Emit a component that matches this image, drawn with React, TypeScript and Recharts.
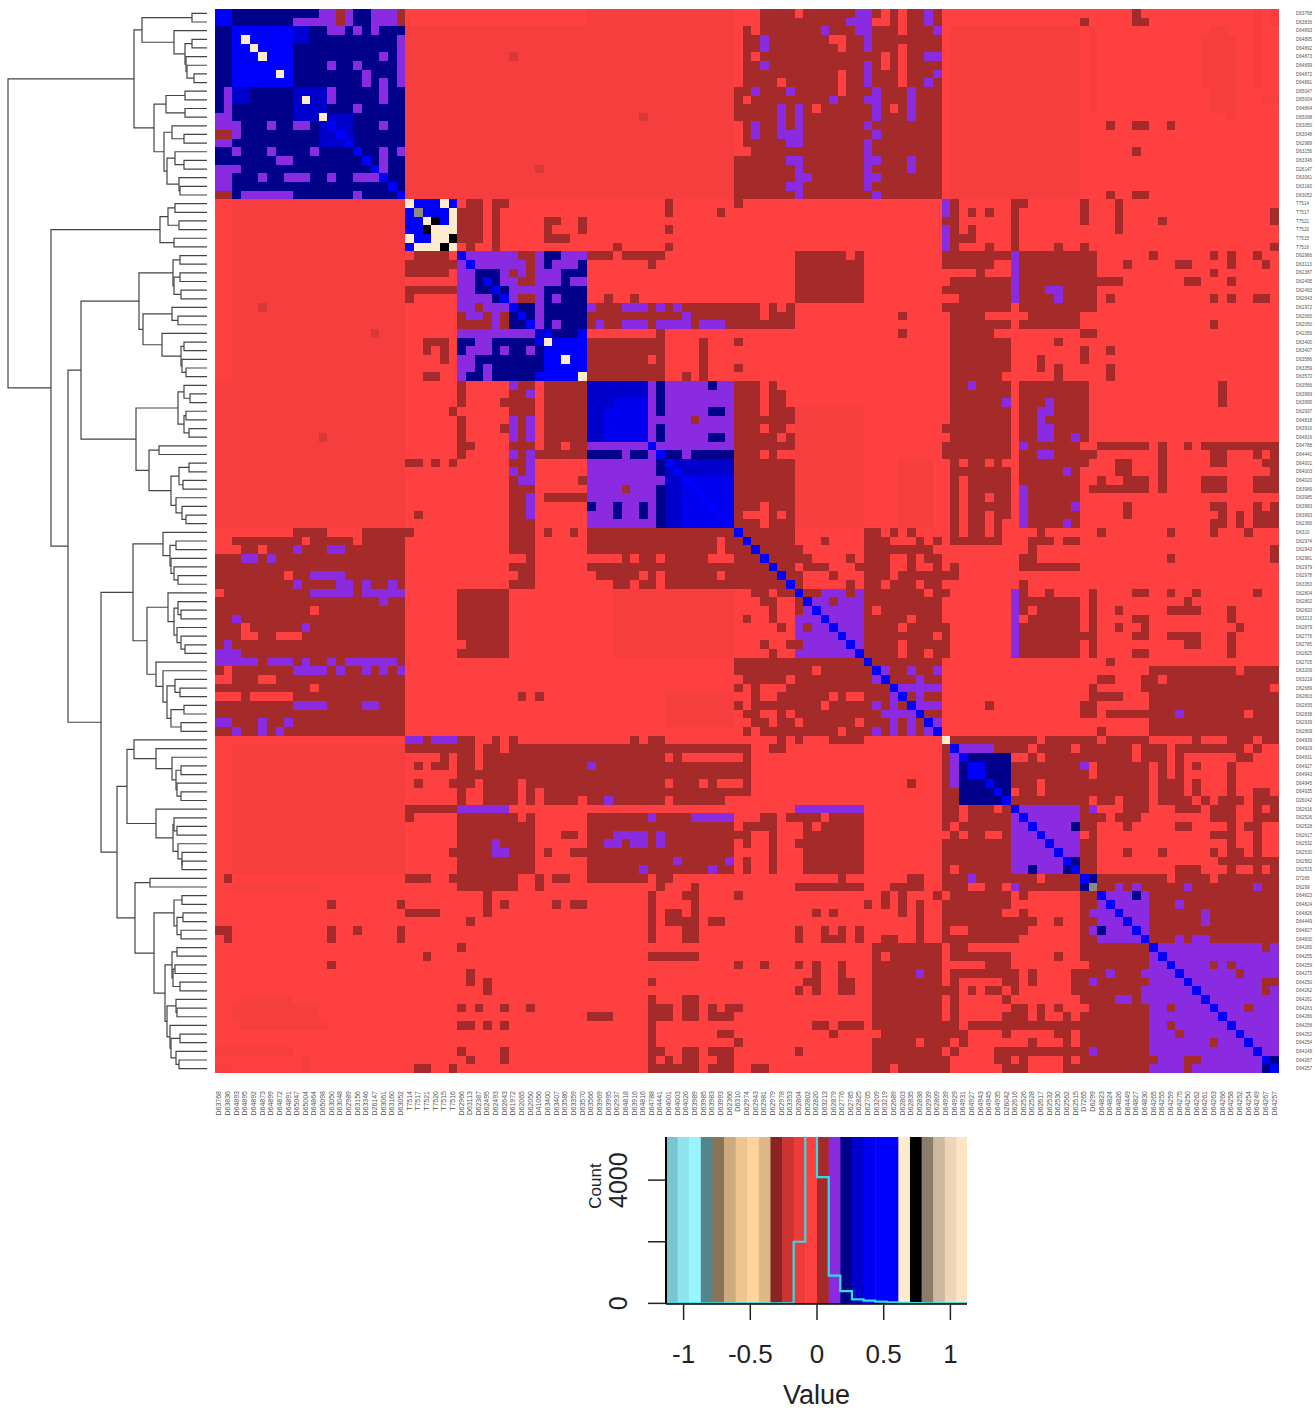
import React from "react";
import {
  ScatterChart, Scatter, XAxis, YAxis, ReferenceLine, ReferenceArea,
  ComposedChart, Line,
} from "recharts";

type Patch = [number, number, number, number];

const labels = [
  "D63768","D63836","D64893","D64895","D64892","D64873","D64899","D64872","D64891","D65047","D65004","D64864","D65098","D63050","D63048","D62989","D63156","D63346","D26147","D63061","D63160","D63052",
  "T7514","T7517","T7521","T7520","T7515","T7516",
  "D62966","D63113","D62387","D62495","D62493","D62643","D61972","D62065","D62050","D41056","D63400","D63407","D63586","D63359","D63570",
  "D63566","D63969","D63995","D62937","D64818","D63916","D64816","D64788","D64441","D64001","D64003","D64020","D63989","D63985","D63983","D63993",
  "D62366","D6310","D62974","D62943","D62981","D62979","D62978","D63353","D62804","D62802","D62820","D63213","D62879","D62776","D62785","D62825","D62705","D63209","D63219","D62689","D62803","D62835","D62838","D62939","D62809",
  "D64939","D64929","D64931","D64927","D64943","D64945","D64935","D26042","D62616","D62526","D62528","D62617","D62532","D62530","D62562","D62515",
  "D7265","D6299","D64823","D64824","D64826","D64449","D64827","D64830","D64265","D64255","D64259","D64275","D64250","D64262","D64261","D64263","D64266","D64258","D64252","D64254","D64249","D64267","D64257",
];

const cellColors: Record<string, string> = {
  R: "#FF4040", s: "#F63E3E", r: "#D83838", D: "#A52A2A", P: "#8A2BE2",
  N: "#00008B", M: "#0000CD", E: "#0000EE", B: "#0000FF", W: "#FFEBCD", K: "#000000", G: "#8B8B83",
};

const paleBlocks: Patch[] = [
  [0,21,22,59],[3,21,85,99],[85,99,2,21],[46,59,67,74],[52,59,79,82],[101,101,2,11],
  [114,114,3,8],[115,116,2,11],[117,117,3,12],[120,120,0,8],[121,122,10,10],[122,122,0,1],
];
const paleCells: Patch[] = [[34,34,5,5],[37,37,18,18],[49,49,12,12]];
const purpleBlocks: Patch[] = [
  [28,42,28,42],[43,50,50,59],[67,74,67,74],[92,99,92,99],[102,107,102,107],[108,122,108,122],
];
const navyBlocks: Patch[] = [[0,21,0,21]];
const brownCells: Patch[] = [
  [0,21,60,83],[0,1,14,14],[0,1,21,21],
  [22,22,29,30],[23,26,28,30],[27,27,29,29],[22,27,32,32],[22,22,33,33],[22,23,52,52],[23,23,58,58],[25,25,52,52],[27,27,52,52],[27,27,46,46],[24,26,38,38],[24,24,39,39],[26,26,39,40],[24,25,42,42],
  [24,24,84,84],[22,27,85,85],[23,23,87,87],[23,23,89,89],[25,25,87,87],[26,26,86,87],[27,27,89,89],[22,24,92,92],[22,22,93,93],[25,27,92,92],[27,27,97,97],[22,24,100,100],[27,27,100,100],[22,25,104,104],[24,24,109,109],[23,24,122,122],[27,27,122,122],
  [0,1,106,106],[1,1,100,100],[1,1,107,107],[13,13,103,103],[13,13,106,107],[13,13,110,110],[16,16,106,106],[21,21,103,103],[21,21,106,107],
  [28,28,35,36],[29,31,36,36],[30,30,34,34],[31,31,35,36],[33,33,35,36],[34,34,30,30],[35,36,28,28],[36,36,28,31],[35,36,31,31],[35,36,33,33],
  [28,28,43,45],[28,28,47,51],[29,29,50,50],[33,33,45,45],[33,33,48,48],[34,34,44,46],[34,34,50,50],[34,34,52,52],[34,34,54,60],[35,35,43,53],[35,35,55,60],[36,36,43,43],[36,36,45,46],[36,36,50,50],[36,36,55,55],[36,36,59,60],[37,37,51,51],[38,42,43,51],[38,42,56,56],[38,38,60,60],[41,41,60,60],[42,42,54,54],
  [38,38,24,26],[39,39,24,24],[39,40,26,26],[42,42,24,25],[46,46,27,27],[52,52,22,23],[52,52,25,25],[52,52,27,27],[58,58,23,23],[60,60,22,22],[54,54,42,42],[56,56,38,42],[47,47,55,55],
  [43,59,60,66],[28,33,67,74],[34,36,60,66],[35,35,79,79],[37,37,79,79],
  [28,28,84,91],[29,29,84,89],[30,30,88,88],[31,31,85,91],[32,32,84,91],[33,33,86,91],[34,34,84,91],[35,35,85,88],[36,36,85,91],[37,37,85,89],[38,41,85,91],[42,42,85,90],
  [43,59,85,91],[43,59,93,99],[48,48,84,84],[50,51,84,84],[28,34,93,101],[35,35,94,99],[36,36,93,99],[38,38,97,97],[40,41,95,95],[41,42,97,97],
  [28,28,108,108],[28,28,115,115],[28,29,117,117],[28,28,120,120],[29,29,105,105],[29,29,111,112],[29,29,121,121],[30,30,115,115],[31,31,102,104],[31,31,112,113],[31,31,117,117],[33,33,103,103],[33,33,115,115],[33,33,117,117],[33,33,120,121],[36,36,115,115],[37,37,100,101],[39,40,100,100],[39,39,103,103],[41,42,103,103],[43,45,116,116],[43,49,99,100],
  [50,50,99,99],[50,50,102,107],[50,50,109,109],[50,50,112,112],[50,50,114,122],
  [51,51,99,101],[51,51,109,109],[51,51,115,116],[51,51,120,120],[51,51,122,122],
  [52,52,99,100],[52,53,104,105],[52,55,109,109],[52,52,115,116],[52,52,121,122],[53,53,122,122],
  [54,54,102,102],[54,54,105,107],[54,55,114,116],[54,55,120,122],[55,55,101,107],
  [57,58,105,105],[57,57,115,116],[57,57,120,120],[57,57,122,122],[58,58,116,116],[58,59,118,118],[58,59,120,122],[59,59,115,116],
  [60,60,102,102],[60,60,110,110],[60,60,115,115],[60,60,119,119],[61,61,99,99],[62,63,122,122],[63,63,110,110],[64,64,99,99],
  [60,66,60,66],[62,63,67,67],[63,63,68,68],[64,64,68,70],[65,66,67,67],[61,61,70,70],[65,65,71,71],[63,63,73,73],[64,64,74,74],[66,67,73,73],[67,67,68,69],[68,68,71,71],
  [60,60,75,76],[60,60,78,78],[60,60,80,80],[61,61,75,77],[61,61,81,81],[61,61,83,83],[62,62,75,82],[63,63,75,77],[63,63,80,80],[63,63,82,83],[64,64,75,77],[64,64,80,80],[64,64,83,83],[64,64,85,85],[65,65,75,77],[65,65,79,85],[66,66,75,76],[66,66,78,80],[66,66,82,83],[67,67,75,81],[67,67,83,84],[68,74,75,83],[71,74,84,84],[75,83,75,83],
  [60,60,85,85],[60,60,87,88],[60,60,90,90],[60,60,95,95],[61,61,85,90],[61,61,94,96],[61,61,98,99],[62,62,94,94],[63,63,93,94],[64,64,93,99],[66,66,93,93],[67,67,93,93],[67,67,96,96],[68,74,93,99],[72,72,100,100],[80,81,100,100],[80,80,89,89],
  [67,67,101,101],[67,67,106,107],[67,67,110,110],[67,67,113,113],[67,67,120,120],[68,74,101,101],[68,68,112,112],[69,69,104,104],[69,69,110,113],[69,70,117,117],[70,70,106,107],[71,71,104,104],[71,71,107,107],[71,71,118,118],[72,72,99,100],[72,72,106,107],[72,72,110,113],[72,74,117,117],[73,73,112,113],[74,74,106,107],[73,74,99,99],[75,75,103,103],
  [76,76,108,117],[76,76,119,122],[77,77,102,103],[77,77,107,122],[78,78,101,101],[78,78,107,121],[79,79,101,104],[79,83,108,122],[80,81,100,101],[81,81,103,107],[83,83,102,102],
  [84,84,85,94],[84,84,96,98],[84,84,100,101],[84,84,103,107],[84,84,113,113],[84,84,117,119],[84,84,121,122],
  [85,85,90,93],[85,85,95,98],[85,85,100,105],[85,85,107,109],[85,85,111,118],[85,85,120,120],
  [85,94,84,84],[96,99,84,84],[86,91,92,99],
  [86,86,100,105],[86,86,107,109],[86,86,111,111],[86,86,118,119],
  [87,87,99,99],[87,87,102,107],[87,87,109,109],[87,87,111,111],[87,87,113,113],[87,87,117,117],
  [88,88,99,100],[88,88,102,107],[88,88,109,109],[88,88,111,111],[88,88,117,117],
  [89,90,99,107],[89,90,109,111],[89,90,113,113],[89,90,117,117],[90,90,120,121],
  [91,91,99,100],[91,91,102,103],[91,91,105,107],[91,91,109,112],[91,91,114,114],[91,91,116,118],[91,91,120,122],
  [92,92,100,100],[92,92,105,107],[92,92,111,113],[92,92,115,117],[92,92,120,120],[92,92,122,122],
  [93,93,100,102],[93,93,104,106],[93,93,115,117],[93,93,120,122],
  [94,94,100,101],[94,94,105,105],[94,94,111,112],[94,94,117,117],[94,94,119,120],
  [95,95,101,101],[95,95,115,117],[95,95,120,120],
  [96,96,100,101],[96,96,117,117],[96,96,120,120],
  [97,97,100,101],[97,97,105,105],[97,97,109,109],[97,97,115,115],[97,97,117,118],[97,97,120,120],
  [98,98,100,101],[98,98,116,122],
  [99,99,100,101],[99,99,111,113],[99,99,117,117],[99,99,120,120],[99,99,122,122],
  [100,101,102,122],[102,107,108,122],
  [108,108,121,121],[110,110,115,115],[110,110,117,117],[111,111,118,118],[112,113,121,121],[112,112,122,122],[115,115,119,119],[117,117,110,110],[118,118,111,111],[119,119,115,115],[121,121,112,113],[122,122,112,112],
];
const redCells: Patch[] = [
  [22,42,0,1],
  [0,1,60,62],[2,2,60,60],[2,2,62,62],[3,8,60,60],[13,15,60,60],[16,16,60,61],[0,0,67,67],[0,0,77,77],[1,1,76,77],[0,2,79,79],[4,8,79,79],[3,3,71,72],[4,4,72,72],[5,5,62,62],[5,6,77,77],[8,8,65,65],[7,9,72,72],[10,10,61,61],[11,11,69,69],[11,11,78,78],
  [40,40,50,50],[43,46,63,63],[48,48,63,63],[51,51,63,63],[57,59,63,63],[58,58,61,63],[58,58,65,65],[43,45,66,66],[43,43,65,65],[48,48,66,66],[49,49,65,65],[51,51,65,66],
  [28,28,73,73],[34,35,63,63],[34,34,65,65],
  [52,52,86,86],[52,52,89,89],[52,52,91,91],[54,59,86,86],[56,56,89,89],[58,59,89,89],[59,59,91,91],
  [69,69,76,76],[70,70,80,80],[71,71,79,79],[72,72,83,83],[73,74,79,79],[74,74,82,82],
  [69,69,94,94],[70,70,93,93],[77,77,109,109],[81,81,119,119],
  [86,86,92,93],[86,86,95,95],[89,90,95,95],[90,90,92,92],[100,100,110,110],[100,100,115,115],
];
const purpleCells: Patch[] = [
  [1,1,9,13],[0,0,12,13],[0,1,15,15],[0,1,18,20],[2,2,13,14],[2,2,16,16],[2,2,18,18],[3,8,21,21],[5,5,19,19],[6,6,13,13],[6,6,16,16],[7,8,17,17],[8,10,19,19],[9,10,13,13],[11,11,16,16],[13,13,6,6],[13,13,9,10],[13,13,19,19],[16,16,2,2],[16,16,6,6],[16,16,11,11],[16,18,19,19],[16,16,21,21],[17,17,7,8],[19,19,5,5],[19,19,8,10],[19,19,13,13],[19,19,16,18],[21,21,3,8],[21,21,16,16],
  [0,2,74,75],[1,1,73,75],[2,2,70,70],[3,4,75,75],[0,1,82,82],[2,2,83,83],[3,4,63,63],[5,5,82,83],[6,6,63,63],[6,8,75,75],[7,7,83,83],[8,8,82,82],[9,9,66,66],[9,9,62,62],[9,12,76,76],[10,10,75,76],[10,10,71,71],[9,12,80,80],[11,14,65,65],[11,15,67,67],[14,14,65,67],[15,15,66,67],[13,14,62,62],[13,13,75,75],[14,14,76,76],[15,20,75,75],[17,17,76,76],[19,19,76,76],[17,18,80,80],[17,17,66,67],[18,18,67,67],[19,19,67,68],[20,20,66,67],[21,21,67,67],[21,21,76,76],
  [22,23,84,84],[25,27,84,84],[28,33,92,92],[32,32,96,97],[33,33,97,97],
  [34,34,43,43],[34,34,47,49],[34,34,51,51],[34,34,53,53],[35,35,54,54],[36,36,44,44],[36,36,47,49],[36,36,51,54],[36,36,56,58],
  [43,43,87,87],[45,45,91,91],[45,45,96,96],[46,46,95,96],[47,47,95,95],[48,49,95,96],[49,49,99,99],[50,50,93,93],[51,51,95,96],[53,53,98,98],[55,59,93,93],[57,57,99,99],[59,59,98,98],
  [67,74,92,92],[76,76,77,77],[76,76,80,80],[76,76,83,83],[77,77,81,81],[78,78,79,83],[79,79,81,81],[80,80,81,83],[82,82,83,83],[80,80,76,76],[82,82,78,78],[82,82,80,80],[83,83,76,76],[83,83,78,78],[83,83,80,80],
  [85,85,86,89],[85,88,85,85],[86,86,89,89],[81,81,111,111],[87,87,100,100],[92,92,101,101],
  [101,101,104,104],[101,101,106,106],[101,101,112,112],[101,101,120,120],[103,103,111,111],[104,105,114,114],[107,107,111,111],[107,107,113,114],
];
const navyCells: Patch[] = [
  [30,32,30,32],[32,33,32,33],[34,36,34,36],[28,28,38,39],[29,29,38,38],[29,29,42,42],[30,30,40,42],[31,31,40,40],[32,36,38,42],
  [38,38,28,29],[39,39,28,28],[38,42,32,36],[40,40,30,31],[41,41,30,30],[42,42,29,30],
  [43,46,51,51],[48,49,51,51],[43,43,57,57],[46,46,57,58],[49,49,57,58],
  [51,51,43,46],[51,51,48,49],[51,51,52,53],[51,51,55,59],
  [86,91,86,91],[94,94,99,99],[98,99,98,99],[100,100,101,101],[102,102,106,106],[121,122,121,122],
];
const mediumCells: Patch[] = [
  [2,3,9,10],[9,12,9,12],[12,15,12,15],[43,49,43,49],[52,59,52,59],[37,39,37,37],[41,42,37,37],
];
const brightNavyCells: Patch[] = [[45,49,46,49],[54,59,54,59]];
const blueCells: Patch[] = [
  [0,1,0,1],[2,8,2,8],[22,27,22,27],[37,42,38,42],[87,88,87,88],[100,100,100,100],
];
const navyOverBlue: Patch[] = [[37,37,39,41]];
const purpleOverNavy: Patch[] = [[33,33,39,39],[36,36,39,39],[51,51,47,47],[51,51,50,50],[51,51,54,54],[47,47,51,51]];
const blueDiagonalRuns = [[13,21],[28,29],[31,33],[34,36],[50,51],[52,59],[60,83],[85,86],[89,91],[92,99],[102,122]];
const ivoryCells: Patch[] = [
  [3,3,3,3],[4,4,4,4],[5,5,5,5],[7,7,7,7],[10,10,10,10],[12,12,12,12],
  [22,22,22,22],[22,22,26,26],[23,23,27,27],[24,24,24,24],[24,24,27,27],[25,25,25,25],[25,25,26,26],[25,25,27,27],[26,26,26,26],[27,27,27,27],
  [38,38,38,38],[40,40,40,40],[42,42,42,42],[84,84,84,84],
];
const blackCells: Patch[] = [[24,24,25,25],[26,26,27,27]];
const greyCells: Patch[] = [[23,23,23,23],[101,101,101,101]];

const blueDiagonal: Patch[] = blueDiagonalRuns.flatMap(([a, b]) =>
  Array.from({ length: b - a + 1 }, (_, i) => [a + i, a + i, a + i, a + i] as Patch));

const layers: [string, Patch[]][] = [
  ["s", paleBlocks], ["r", paleCells], ["P", purpleBlocks], ["N", navyBlocks],
  ["D", brownCells], ["R", redCells], ["P", purpleCells], ["N", navyCells],
  ["M", mediumCells], ["E", brightNavyCells], ["B", blueCells], ["N", navyOverBlue], ["P", purpleOverNavy],
  ["B", blueDiagonal], ["W", ivoryCells], ["K", blackCells], ["G", greyCells],
];

const grid: string[][] = labels.map(() => labels.map(() => "R"));
layers.forEach(([code, patches]) => {
  patches.forEach(([r0, r1, c0, c1]) => {
    for (let r = r0; r <= r1; r++) for (let c = c0; c <= c1; c++) {
      grid[r][c] = code;
      grid[c][r] = code;
    }
  });
});

const cellRuns: { col: number; row: number; span: number; code: string }[] = [];
grid.forEach((line, row) => {
  let start = 0;
  for (let c = 1; c <= line.length; c++) {
    if (c === line.length || line[c] !== line[start]) {
      cellRuns.push({ col: start, row, span: c - start, code: line[start] });
      start = c;
    }
  }
});

type TreeNode = number | { h: number; a: TreeNode; b: TreeNode };
const n = (h: number, a: TreeNode, b: TreeNode): TreeNode => ({ h, a, b });

const clusterA = n(73,
  n(65, n(15,0,1), n(33,2,n(22,n(15,3,4),n(21,5,n(20,6,n(13,7,8)))))),
  n(53, n(41,n(22,9,10),n(22,11,12)), n(43,n(35,13,n(23,14,15)),n(40,n(32,16,n(23,17,18)),n(28,19,n(27,20,21))))));
const clusterT = n(47, n(39,n(32,22,23),n(28,24,25)), n(33,26,27));
const clusterC = n(68,
  n(34,n(27,28,29),n(33,n(27,30,31),n(26,32,33))),
  n(64,n(35,34,n(29,35,36)),n(45,37,n(26,n(23,38,39),n(25,40,n(21,41,42))))));
const clusterD = n(71,
  n(29,n(23,43,n(17,44,45)),n(23,n(21,46,47),n(18,48,49))),
  n(58,n(48,50,51),n(36,n(28,n(18,52,53),n(24,54,55)),n(31,56,n(25,57,n(21,58,59))))));
const clusterE = n(74,
  n(44,60,n(37,n(31,61,62),n(36,63,n(33,64,n(29,65,66))))),
  n(60,n(39,67,n(33,n(29,68,n(26,69,70)),n(30,71,n(26,72,n(22,73,74))))),
    n(51,75,n(44,76,n(40,n(32,77,n(27,78,79)),n(36,n(23,80,81),n(26,82,83)))))));
const clusterF = n(80,
  n(73,84,n(51,85,n(35,86,n(31,n(26,87,88),n(30,89,n(26,90,91)))))),
  n(51,92,n(34,n(33,93,n(30,94,95)),n(29,96,n(25,97,n(25,98,99))))));
const clusterG = n(72, n(57,100,101),
  n(53,n(33,n(25,102,103),n(30,n(24,104,105),n(26,106,107))),
    n(42,n(35,n(30,108,109),n(34,n(32,110,111),n(27,112,113))),
      n(40,n(31,114,n(30,115,116)),n(37,117,n(36,n(27,118,119),n(31,120,n(28,121,122))))))));
const treeRoot = n(199, clusterA,
  n(156, clusterT, n(139, n(126, clusterC, clusterD), n(106, clusterE, n(90, clusterF, clusterG)))));

const merges: { h: number; y: number }[][] = [];
const walk = (node: TreeNode): { h: number; y: number } => {
  if (typeof node === "number") return { h: 0, y: node + 0.5 };
  const a = walk(node.a);
  const b = walk(node.b);
  merges.push([a, { h: node.h, y: a.y }, { h: node.h, y: b.y }, b]);
  return { h: node.h, y: (a.y + b.y) / 2 };
};
walk(treeRoot);

const bandEdges = [-1.132,-1.045,-0.958,-0.871,-0.784,-0.697,-0.61,-0.523,-0.436,-0.349,-0.262,-0.175,-0.088,0,0.088,0.175,0.262,0.349,0.436,0.523,0.61,0.697,0.784,0.871,0.958,1.045,1.132];
const bandColors = ["#7AC5CD","#8EE5EE","#98F5FF","#53868B","#8B7355","#CDAA7D","#EEC591","#FFD39B","#DEB887","#8B2323","#CD3333","#EE3B3B","#FF4040","#A52A2A","#8A2BE2","#00008B","#0000CD","#0000EE","#0000FF","#0000FF","#FFEBCD","#000000","#8B7D6B","#CDB79E","#EED5B7","#FFE4C4"];
const histCounts = [0,0,0,0,0,0,0,0,0,0,0,2000,7000,4100,900,400,130,90,60,30,20,10,5,3,0,0,0];
const histData = bandEdges.map((value, i) => ({ value, count: histCounts[i] }));
const valueTicks = [-1, -0.5, 0, 0.5, 1];
const countTicks = [0, 2000, 4000];
const countLabels = [0, 4000];
const VALUE_MIN = -1.132;
const VALUE_MAX = 1.1245;
const COUNT_MIN = -20;
const COUNT_MAX = 5400;

const MATRIX = 1064;
const CELL = MATRIX / labels.length;
const cellCentres = labels.map((_, i) => i + 0.5);
const SANS = "'Liberation Sans', Arial, sans-serif";

const CellRun = (props: any) => {
  const { cx, cy, payload } = props;
  return (
    <rect x={cx} y={cy} width={payload.span * CELL} height={CELL}
      fill={cellColors[payload.code]} shapeRendering="crispEdges" />
  );
};

const BottomTick = (props: any) => {
  const { x, index } = props;
  return (
    <text x={0} y={0} transform={`translate(${x + 2},1091)rotate(-90)`}
      textAnchor="end" fontSize={7} fontFamily={SANS} fill="#555">{labels[index]}</text>
  );
};

const NoMark = () => null;

export default function App() {
  return (
    <div style={{ position: "absolute", left: 0, top: 0, width: 1315, height: 1410, background: "#fff", overflow: "hidden" }}>
      <div style={{ position: "absolute", left: 0, top: 0 }}>
        <ScatterChart width={215} height={1125} margin={{ top: 9, left: 8, right: 8, bottom: 52 }}>
          <XAxis type="number" dataKey="h" domain={[0, 199]} reversed hide />
          <YAxis type="number" dataKey="y" domain={[0, labels.length]} reversed hide />
          {merges.map((seg, i) => (
            <Scatter key={i} data={seg} line={{ stroke: "#444", strokeWidth: 1.2 }} shape={NoMark} isAnimationActive={false} />
          ))}
        </ScatterChart>
      </div>
      <div style={{ position: "absolute", left: 0, top: 0, pointerEvents: "none" }}>
        <ScatterChart width={1315} height={1125} margin={{ top: 9, left: 215, right: 0, bottom: 0 }}>
          <XAxis type="number" dataKey="col" domain={[0, labels.length]} ticks={cellCentres} interval={0}
            height={52} axisLine={false} tickLine={false} tick={<BottomTick />} />
          <YAxis type="number" dataKey="row" domain={[0, labels.length]} reversed orientation="right" ticks={cellCentres} interval={0}
            width={36} axisLine={false} tickLine={false} tickMargin={11}
            tick={{ fontSize: 4.6, fill: "#555", fontFamily: SANS }}
            tickFormatter={(_: number, i: number) => labels[i]} />
          <Scatter data={cellRuns} shape={<CellRun />} isAnimationActive={false} />
          <ReferenceLine y={100} stroke="#F6C9BE" strokeWidth={1} />
        </ScatterChart>
      </div>
      <div style={{ position: "absolute", left: 560, top: 1125 }}>
        <ComposedChart width={420} height={285} data={histData} margin={{ top: 12, right: 13, left: 0, bottom: 0 }}>
          <XAxis type="number" dataKey="value" domain={[VALUE_MIN, VALUE_MAX]} allowDataOverflow ticks={valueTicks} interval={0}
            height={106} tickSize={16} axisLine={{ stroke: "#000", strokeWidth: 1.5 }} tickLine={{ stroke: "#222", strokeWidth: 1.5 }}
            tick={(p: any) => (
              <text x={p.x} y={238} textAnchor="middle" fontSize={26} fontFamily={SANS} fill="#222">{p.payload.value}</text>
            )}
            label={{ value: "Value", position: "insideBottom", offset: 6, fontSize: 27, fontFamily: SANS, fill: "#222" }} />
          <YAxis type="number" domain={[COUNT_MIN, COUNT_MAX]} allowDataOverflow ticks={countTicks} interval={0}
            width={106} tickSize={18} axisLine={{ stroke: "#000", strokeWidth: 2 }} tickLine={{ stroke: "#222", strokeWidth: 1.5 }}
            tick={(p: any) => countLabels.includes(p.payload.value) ? (
              <text x={0} y={0} transform={`translate(67,${p.y})rotate(-90)`} textAnchor="middle" fontSize={25} fontFamily={SANS} fill="#222">{p.payload.value}</text>
            ) : <g />}
            label={() => (
              <text x={0} y={0} transform="translate(41,61)rotate(-90)" textAnchor="middle" fontSize={17} fontFamily={SANS} fill="#222">Count</text>
            )} />
          {bandColors.map((c, i) => (
            <ReferenceArea key={i} x1={bandEdges[i]} x2={Math.min(bandEdges[i + 1] + 0.004, VALUE_MAX)} y1={COUNT_MIN} y2={COUNT_MAX} fill={c} fillOpacity={1} stroke="none" />
          ))}
          <Line type="stepAfter" dataKey="count" stroke="#2FDDE3" strokeWidth={2.2} dot={false} isAnimationActive={false} />
        </ComposedChart>
      </div>
    </div>
  );
}
